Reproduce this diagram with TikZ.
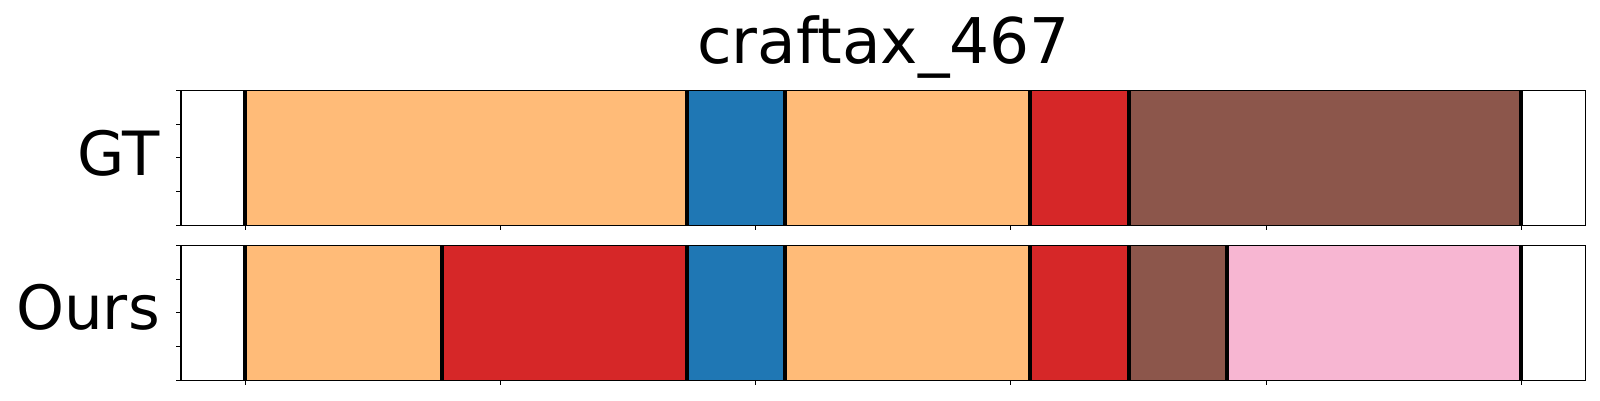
\documentclass[tikz,border=0pt]{standalone}
\usepackage{fontspec}
\setmainfont{DejaVu Sans}
\definecolor{segorange}{RGB}{255,187,120}
\definecolor{segblue}{RGB}{31,119,180}
\definecolor{segred}{RGB}{214,39,40}
\definecolor{segbrown}{RGB}{140,86,75}
\definecolor{segpink}{RGB}{247,182,210}
\tikzset{
    % panel, segment and label styles
    panelframe/.style={draw=black, line width=1.2pt},
    boundline/.style={draw=black, line width=4pt},
    tickmark/.style={draw=black, line width=1.1pt},
    bigtext/.style={font=\fontsize{61}{73}\selectfont, inner sep=0pt},
    rowlabel/.style={bigtext, anchor=base east}
}
\begin{document}
\begin{tikzpicture}[x=1pt,y=-1pt]
\useasboundingbox[fill=white] (0,0) rectangle (1600,400);

% Title
\node[bigtext, anchor=base] (title) at (883.4,63.3) {\fontsize{63}{75}\selectfont craftax\_467};

% Row labels
\node[rowlabel] (gtlabel) at (160,175) {GT};
\node[rowlabel] (ourslabel) at (160,329) {Ours};

% GT segments
\foreach \a/\b/\c in {244.7/687/segorange, 687/785/segblue, 785/1030/segorange,
                      1030/1129/segred, 1129/1521/segbrown}
    \fill[\c] (\a,90.3) rectangle (\b,225.3);
\foreach \a in {244.7,687,785,1030,1129,1521}
    \draw[boundline] (\a,90.3) -- (\a,225.3);

% Ours segments
\foreach \a/\b/\c in {244.7/442.3/segorange, 442.3/687/segred, 687/785/segblue,
                      785/1030/segorange, 1030/1129/segred, 1129/1227/segbrown,
                      1227/1521/segpink}
    \fill[\c] (\a,245.3) rectangle (\b,380.3);
\foreach \a in {244.7,442.3,687,785,1030,1129,1227,1521}
    \draw[boundline] (\a,245.3) -- (\a,380.3);

% Axes frames and ticks
\foreach \top/\bot in {90.3/225.3, 245.3/380.3} {
    \draw[panelframe] (181,\top) rectangle (1585.7,\bot);
    \foreach \k in {0,...,5}
        \draw[tickmark] (245.3+\k*255.2,\bot) -- ++(0,5);
    \foreach \k in {0,...,4}
        \draw[tickmark] (181,{\top+\k*(\bot-\top)/4}) -- ++(-5,0);
}

\end{tikzpicture}
\end{document}
